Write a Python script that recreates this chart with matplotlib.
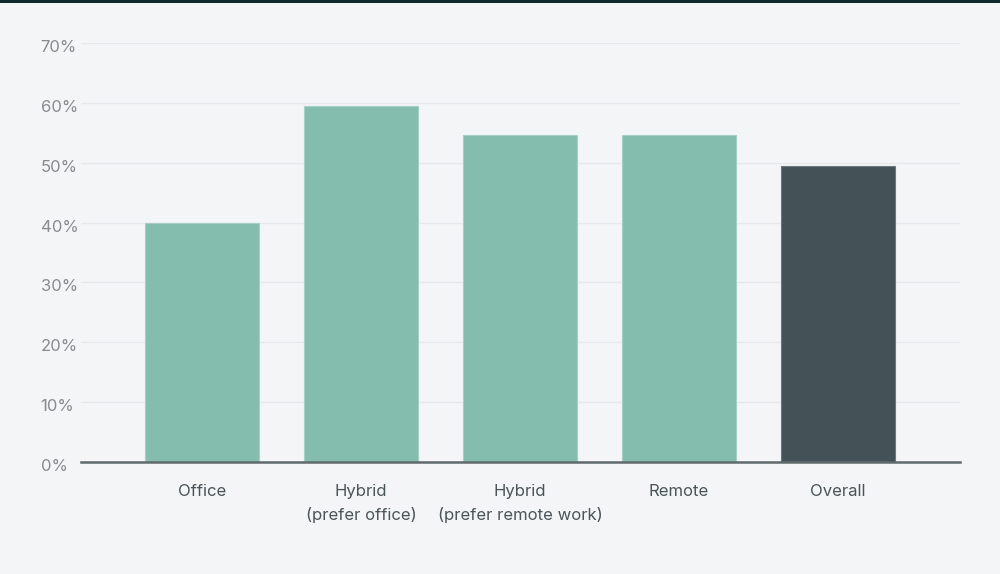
import matplotlib
matplotlib.use("Agg")
import matplotlib.pyplot as plt
import matplotlib.transforms as mtransforms
from matplotlib.patches import Rectangle
from matplotlib.ticker import FixedLocator, FuncFormatter

categories = ["Office", "Hybrid\n(prefer office)", "Hybrid\n(prefer remote work)", "Remote", "Overall"]
values = [40.0, 59.5, 54.6, 54.6, 49.5]
colors = ["#84bcae", "#84bcae", "#84bcae", "#84bcae", "#445257"]
edge_colors = ["#a6d0c5", "#a6d0c5", "#a6d0c5", "#a6d0c5", "#6c787c"]
y_ticks = [0, 10, 20, 30, 40, 50, 60, 70]

plt.rcParams['font.family'] = ['Inter', 'DejaVu Sans']

bg = "#f4f5f7"
fig = plt.figure(figsize=(10, 5.74), dpi=100, facecolor=bg)
ax = fig.add_axes([0.081, 1 - 462 / 574, 0.879, (462 - 43) / 574])
ax.set_facecolor(bg)

x = list(range(len(categories)))
ax.bar(x, values, width=0.72, color=colors, edgecolor=edge_colors, linewidth=0.8, zorder=3)

ax.set_xlim(-0.761, 4.767)
ax.set_ylim(0, 70)
ax.yaxis.set_major_locator(FixedLocator(y_ticks))
ax.yaxis.set_major_formatter(FuncFormatter(lambda v, p: f"{v:.0f}%"))
ax.grid(axis="y", color="#e6e8eb", linewidth=1, zorder=0)
ax.set_axisbelow(True)

for s in ["top", "right", "left"]:
    ax.spines[s].set_visible(False)
ax.spines["bottom"].set_color("#5f6a6c")
ax.spines["bottom"].set_linewidth(1.8)
ax.spines["bottom"].set_zorder(4)

ax.set_xticks(x)
ax.set_xticklabels(categories, fontsize=12, color="#4a5558", linespacing=1.6)
ax.tick_params(axis="x", length=0, pad=16)
ax.tick_params(axis="y", length=0, pad=29, labelsize=12, labelcolor="#888c8e")
offset = mtransforms.ScaledTranslation(0, -3 / 100, fig.dpi_scale_trans)
for lab in ax.get_yticklabels():
    lab.set_horizontalalignment("left")
    lab.set_verticalalignment("center_baseline")
    lab.set_transform(lab.get_transform() + offset)

fig.add_artist(Rectangle((0, 1 - 3 / 574), 1, 3 / 574, transform=fig.transFigure,
                         facecolor="#0c2a2d", edgecolor="none"))

fig.savefig("out.png", dpi=100, facecolor=bg)
